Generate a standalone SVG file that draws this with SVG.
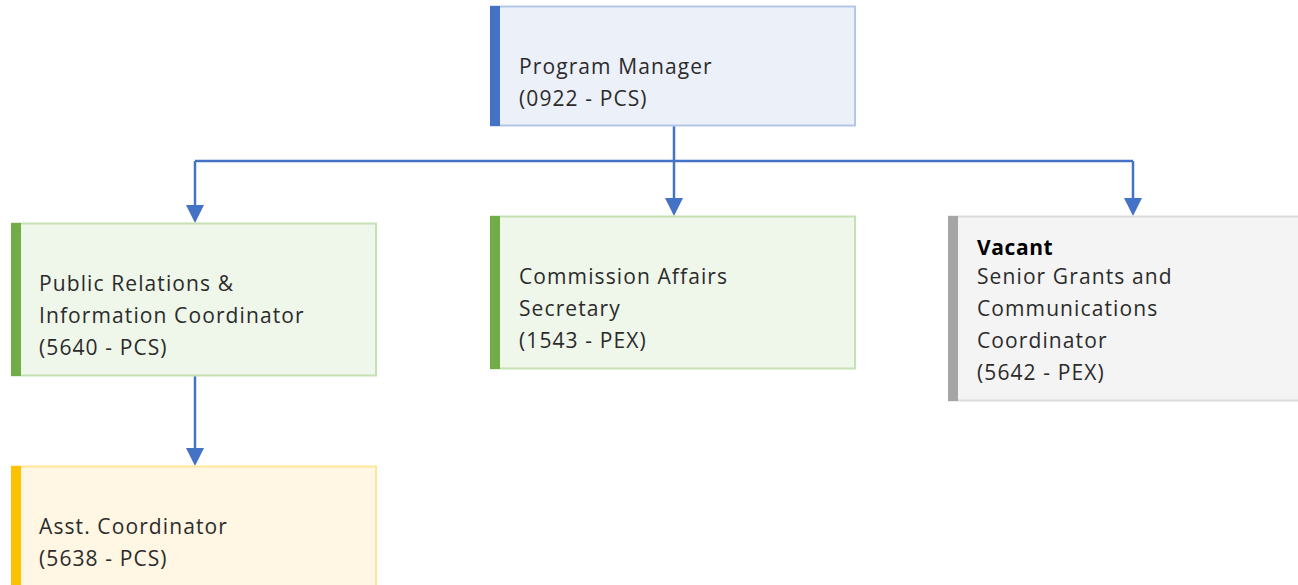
<svg xmlns="http://www.w3.org/2000/svg" width="1298" height="585" viewBox="0 0 1298 585">
<style>
text{font-family:"Open Sans","Liberation Sans",sans-serif;font-size:21px;fill:#2b2b2b;letter-spacing:1.1px}
.b{font-weight:bold;fill:#000;letter-spacing:0.6px}
.conn{fill:none;stroke:#4472c4;stroke-width:2.5}
.ah{fill:#4472c4}
</style>
<rect width="1298" height="585" fill="#fff"/>
<g id="connectors">
<path class="conn" d="M674,126 V161 M195,161 H1133"/>
<path class="conn" d="M195,161 V207"/>
<path class="conn" d="M674,161 V200"/>
<path class="conn" d="M1133,161 V200"/>
<path class="conn" d="M195,376 V450"/>
<path class="ah" d="M186,205 L204,205 L195,223 Z"/>
<path class="ah" d="M665,198 L683,198 L674,216 Z"/>
<path class="ah" d="M1124,198 L1142,198 L1133,216 Z"/>
<path class="ah" d="M186,448 L204,448 L195,466 Z"/>
</g>
<g id="program-manager">
<rect x="491" y="6.5" width="364" height="119" fill="#ebf0f9" stroke="#b4c7e7" stroke-width="2"/>
<rect x="490" y="6" width="10" height="120" fill="#4472c4"/>
<text x="519" y="74">Program Manager</text>
<text x="519" y="106">(0922 - PCS)</text>
</g>
<g id="pr-coordinator">
<rect x="12" y="223.5" width="364" height="152" fill="#eff6ea" stroke="#c5e0b4" stroke-width="2"/>
<rect x="11" y="223" width="10" height="153" fill="#70ad47"/>
<text x="39" y="291">Public Relations &amp;</text>
<text x="39" y="323">Information Coordinator</text>
<text x="39" y="355">(5640 - PCS)</text>
</g>
<g id="commission-secretary">
<rect x="491" y="216.5" width="364" height="152" fill="#eff6ea" stroke="#c5e0b4" stroke-width="2"/>
<rect x="490" y="216" width="10" height="153" fill="#70ad47"/>
<text x="519" y="284">Commission Affairs</text>
<text x="519" y="316">Secretary</text>
<text x="519" y="348">(1543 - PEX)</text>
</g>
<g id="senior-grants">
<rect x="949" y="216.5" width="360" height="184" fill="#f4f4f4" stroke="#dbdbdb" stroke-width="2"/>
<rect x="948" y="216" width="10" height="185" fill="#a5a5a5"/>
<text x="977" y="255" class="b">Vacant</text>
<text x="977" y="284">Senior Grants and</text>
<text x="977" y="316">Communications</text>
<text x="977" y="348">Coordinator</text>
<text x="977" y="380">(5642 - PEX)</text>
</g>
<g id="asst-coordinator">
<rect x="12" y="466.5" width="364" height="130" fill="#fff6e3" stroke="#ffe699" stroke-width="2"/>
<rect x="11" y="466" width="10" height="130" fill="#ffc000"/>
<text x="39" y="534">Asst. Coordinator</text>
<text x="39" y="566">(5638 - PCS)</text>
</g>
</svg>
